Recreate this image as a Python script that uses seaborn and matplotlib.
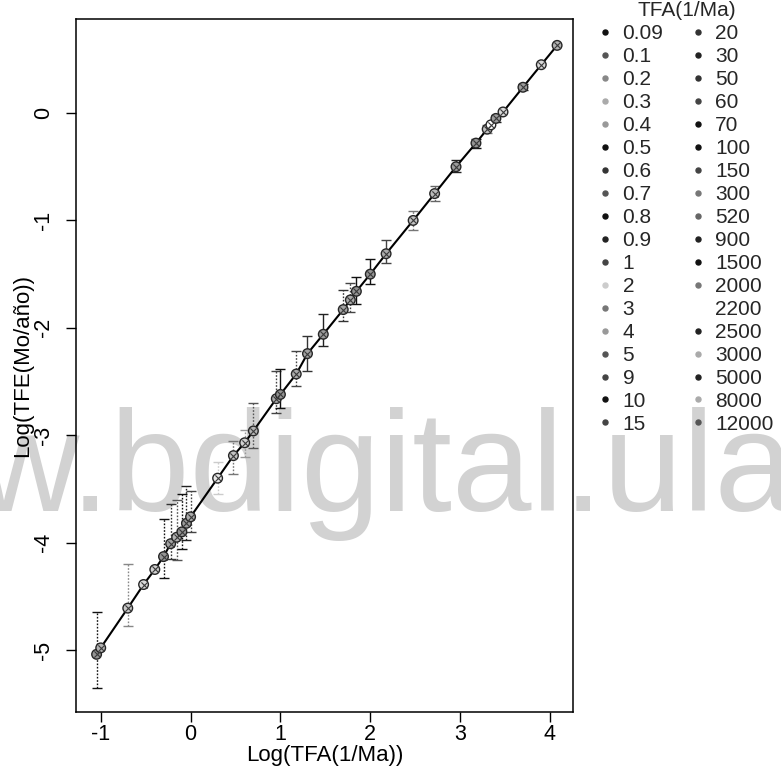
import numpy as np
import pandas as pd
import matplotlib
matplotlib.use("Agg")
import matplotlib.pyplot as plt
from matplotlib.colors import to_rgb
from matplotlib.lines import Line2D
import seaborn as sns

# TFA classes (1/Ma) and their labels
tfa_labels = ["0.09", "0.1", "0.2", "0.3", "0.4", "0.5", "0.6", "0.7", "0.8", "0.9",
              "1", "2", "3", "4", "5", "9", "10", "15",
              "20", "30", "50", "60", "70", "100", "150", "300", "520", "900",
              "1500", "2000", "2200", "2500", "3000", "5000", "8000", "12000"]
tfa = [0.09, 0.1, 0.2, 0.3, 0.4, 0.5, 0.6, 0.7, 0.8, 0.9,
       1, 2, 3, 4, 5, 9, 10, 15,
       20, 30, 50, 60, 70, 100, 150, 300, 520, 900,
       1500, 2000, 2200, 2500, 3000, 5000, 8000, 12000]

# log10 of TFE (Mo/año) per class
log_tfe = [-5.04, -4.98, -4.61, -4.39, -4.25, -4.13, -4.01, -3.95, -3.90, -3.82,
           -3.76, -3.40, -3.19, -3.07, -2.96, -2.66, -2.62, -2.43,
           -2.24, -2.06, -1.83, -1.74, -1.66, -1.50, -1.31, -1.00, -0.75, -0.50,
           -0.28, -0.15, -0.11, -0.05, 0.01, 0.24, 0.45, 0.63]

# lower / upper bounds of the error bars (nan = no bar)
nan = np.nan
err_low = [-5.35, nan, -4.78, nan, nan, -4.33, -4.15, -4.16, -4.06, -3.98,
           -3.90, -3.55, -3.36, -3.20, -3.12, -2.79, -2.75, -2.54,
           -2.40, -2.17, -1.94, -1.85, -1.78, -1.59, -1.40, -1.09, -0.82, -0.55,
           -0.33, -0.19, nan, -0.08, nan, 0.21, nan, nan]
err_high = [-4.65, nan, -4.20, nan, nan, -3.78, -3.64, -3.60, -3.55, -3.47,
            -3.52, -3.25, -3.05, -2.95, -2.70, -2.40, -2.38, -2.22,
            -2.08, -1.87, -1.65, -1.58, -1.53, -1.36, -1.18, -0.91, -0.68, -0.44,
            -0.24, -0.11, nan, -0.02, nan, 0.27, nan, nan]

# grey level of each class
class_grey = ["#111111", "#555555", "#888888", "#aaaaaa", "#999999", "#111111", "#333333",
              "#555555", "#111111", "#222222", "#444444", "#cccccc", "#777777", "#999999",
              "#555555", "#444444", "#111111", "#444444",
              "#333333", "#222222", "#333333", "#444444", "#111111", "#111111", "#444444",
              "#777777", "#666666", "#222222", "#111111", "#777777", "#ffffff", "#222222",
              "#aaaaaa", "#222222", "#aaaaaa", "#555555"]

# classes whose error bars are drawn solid (the rest dotted)
solid_bars = {"10", "20", "30", "70", "100", "150", "900", "1500", "2500", "5000"}

df = pd.DataFrame({
    "TFA": tfa_labels,
    "logTFA": np.log10(tfa),
    "logTFE": log_tfe,
    "lo": err_low,
    "hi": err_high,
    "grey": class_grey,
})

sns.set_theme(style="white")
plt.rcParams["font.family"] = ["Liberation Sans", "DejaVu Sans"]

W, H = 781, 776
fig = plt.figure(figsize=(W / 100, H / 100), dpi=100)
fig.patch.set_facecolor("white")

left, right, top, bottom = 76, 573, 19.5, 712
ax = fig.add_axes([left / W, 1 - bottom / H, (right - left) / W, (bottom - top) / H])
ax.set_facecolor("none")

# repository watermark behind the plot
fig.text(-25 / W, 1 - 511 / H, "w.bdigital.ula", fontsize=103, color="#d2d2d2",
         ha="left", va="baseline", zorder=-10)

# connecting line
sns.lineplot(data=df, x="logTFA", y="logTFE", color="black", linewidth=1.5,
             estimator=None, sort=True, ax=ax, zorder=3)

# error bars per class
for _, r in df.iterrows():
    if np.isfinite(r["lo"]):
        cont = ax.errorbar(r["logTFA"], r["logTFE"],
                           yerr=[[r["logTFE"] - r["lo"]], [r["hi"] - r["logTFE"]]],
                           fmt="none", ecolor=r["grey"], elinewidth=1.0,
                           capsize=3.5, capthick=1.0, zorder=2)
        if r["TFA"] not in solid_bars:
            cont[2][0].set_linestyle((0, (1.2, 1.2)))

# circle faces: class grey lightened towards white
def lighten(c, f=0.55):
    rgb = np.array(to_rgb(c))
    return tuple(rgb + (1 - rgb) * f)

palette = {lab: lighten(c) for lab, c in zip(tfa_labels, class_grey)}
sns.scatterplot(data=df, x="logTFA", y="logTFE", hue="TFA", palette=palette,
                s=48, edgecolor="#262626", linewidth=1.0, legend=False, ax=ax, zorder=4)
sns.scatterplot(data=df, x="logTFA", y="logTFE", marker="x", color="#3a3a3a",
                s=20, linewidth=0.8, legend=False, ax=ax, zorder=5)

ax.set_xlim(-1.275, 4.256)
ax.set_ylim(-5.577, 0.871)
ax.set_xticks([-1, 0, 1, 2, 3, 4])
ax.set_yticks([-5, -4, -3, -2, -1, 0])
ax.set_xticklabels(["-1", "0", "1", "2", "3", "4"])
ax.set_yticklabels(["-5", "-4", "-3", "-2", "-1", "0"], rotation=90, va="center")
ax.tick_params(axis="both", direction="out", length=7, width=1.0, color="black",
               labelsize=15.5, labelcolor="black", bottom=True, left=True)
ax.tick_params(axis="x", pad=1.5)
ax.tick_params(axis="y", pad=9)
for sp in ax.spines.values():
    sp.set_visible(True)
    sp.set_color("black")
    sp.set_linewidth(1.1)

ax.set_xlabel("Log(TFA(1/Ma))", fontsize=16, color="black")
ax.set_ylabel("Log(TFE(Mo/año))", fontsize=16, color="black")
ax.xaxis.set_label_coords(0.5, (bottom - 756) / (bottom - top))
ax.xaxis.label.set_va("center")
ax.yaxis.set_label_coords((23 - left) / (right - left), 0.5)
ax.yaxis.label.set_va("center")

handles = [Line2D([], [], linestyle="none", marker="o", markersize=3.6,
                  markerfacecolor=c, markeredgecolor=c) for c in class_grey]
ax.legend(handles, tfa_labels, ncol=2, loc="upper left",
          bbox_to_anchor=(599 / W, 1 - 1.5 / H), bbox_transform=fig.transFigure,
          frameon=False, fontsize=15, title="TFA(1/Ma)", title_fontsize=15,
          handlelength=0.6, handletextpad=0.53, columnspacing=1.36,
          labelspacing=0.19, borderpad=0, borderaxespad=0)

fig.savefig("out.png", dpi=100)
